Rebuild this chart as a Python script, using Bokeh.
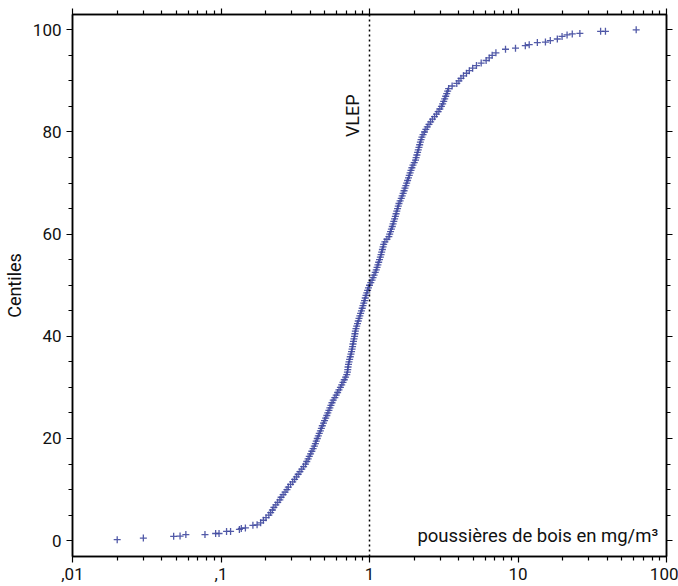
import math
from bokeh.plotting import figure
from bokeh.models import (Range1d, FixedTicker, SingleIntervalTicker, LinearAxis, LogAxis,
                          CustomJSTickFormatter, CustomLabelingPolicy, Span, Label,
                          ColumnDataSource)
from bokeh.embed import file_html
from bokeh.resources import INLINE

# ---- data: concentration (mg/m3) and centile ----
conc = [
    0.020, 0.030, 0.048, 0.053, 0.058, 0.078, 0.092, 0.097, 0.109, 0.116,
    0.133, 0.137, 0.146, 0.164, 0.175, 0.185,
    0.193, 0.201, 0.210, 0.216, 0.222, 0.227, 0.234, 0.241, 0.249, 0.254,
    0.262, 0.270, 0.278, 0.284, 0.294, 0.304, 0.313, 0.322,
    0.331, 0.340, 0.350, 0.360, 0.371, 0.378, 0.386, 0.393, 0.401, 0.409,
    0.417, 0.425, 0.432, 0.438, 0.445, 0.452, 0.459, 0.467, 0.474, 0.481,
    0.490, 0.498, 0.507, 0.516, 0.524, 0.533, 0.541, 0.550, 0.559, 0.570,
    0.584, 0.597, 0.610, 0.623, 0.637, 0.650, 0.663, 0.676, 0.690, 0.703,
    0.710, 0.714, 0.717, 0.722, 0.728, 0.735, 0.742, 0.750, 0.757, 0.763,
    0.769, 0.774, 0.780, 0.786, 0.793, 0.798, 0.803, 0.811, 0.820, 0.830,
    0.840, 0.850, 0.861, 0.871, 0.882, 0.893, 0.904, 0.915, 0.926, 0.936,
    0.947, 0.959, 0.971, 0.984, 1.000, 1.020, 1.040, 1.056, 1.073, 1.093,
    1.110, 1.124, 1.139, 1.153, 1.168, 1.183, 1.196, 1.208, 1.221, 1.234,
    1.246, 1.270, 1.310, 1.350, 1.368, 1.386, 1.404, 1.424, 1.441, 1.458,
    1.476, 1.493, 1.510, 1.527, 1.545, 1.562, 1.580, 1.608, 1.636, 1.660,
    1.685, 1.709, 1.733, 1.757, 1.780, 1.805, 1.830, 1.853, 1.877, 1.903,
    1.930, 1.962, 2.000, 2.040, 2.060, 2.085, 2.108, 2.130, 2.153, 2.177,
    2.200, 2.225, 2.255, 2.295, 2.345, 2.395, 2.450, 2.515, 2.580, 2.655,
    2.740, 2.825, 2.900, 2.975, 3.050, 3.110, 3.160, 3.210, 3.260, 3.310,
    3.360, 3.410, 3.600, 3.870, 4.000, 4.130, 4.290, 4.500, 4.700, 4.950,
    5.250, 5.650, 6.100, 6.400, 6.700, 7.100,
    8.24, 9.62, 11.2, 11.9, 13.5, 15.3, 16.5, 18.4, 19.8, 21.4,
    23.2, 26.1, 36.0, 38.8, 62.5,
]
centile = [
    0.2, 0.5, 0.85, 0.9, 1.2, 1.2, 1.4, 1.4, 1.8, 1.8,
    2.2, 2.4, 2.5, 3.0, 3.1, 3.5,
    4.0, 4.5, 5.0, 5.5, 6.0, 6.5, 7.0, 7.5, 8.0, 8.5,
    9.0, 9.5, 10.0, 10.5, 11.0, 11.5, 12.0, 12.5,
    13.0, 13.5, 14.0, 14.5, 15.0, 15.5, 16.0, 16.5, 17.0, 17.5,
    18.0, 18.5, 19.0, 19.5, 20.0, 20.5, 21.0, 21.5, 22.0, 22.5,
    23.0, 23.5, 24.0, 24.5, 25.0, 25.5, 26.0, 26.5, 27.0, 27.5,
    28.0, 28.5, 29.0, 29.5, 30.0, 30.5, 31.0, 31.5, 32.0, 32.5,
    33.0, 33.5, 34.0, 34.5, 35.0, 35.5, 36.0, 36.5, 37.0, 37.5,
    38.0, 38.5, 39.0, 39.5, 40.0, 40.5, 41.0, 41.5, 42.0, 42.5,
    43.0, 43.5, 44.0, 44.5, 45.0, 45.5, 46.0, 46.5, 47.0, 47.5,
    48.0, 48.5, 49.0, 49.5, 50.0, 50.5, 51.0, 51.5, 52.0, 52.5,
    53.0, 53.5, 54.0, 54.5, 55.0, 55.5, 56.0, 56.5, 57.0, 57.5,
    58.0, 58.5, 59.0, 59.5, 60.0, 60.5, 61.0, 61.5, 62.0, 62.5,
    63.0, 63.5, 64.0, 64.5, 65.0, 65.5, 66.0, 66.5, 67.0, 67.5,
    68.0, 68.5, 69.0, 69.5, 70.0, 70.5, 71.0, 71.5, 72.0, 72.5,
    73.0, 73.5, 74.0, 74.5, 75.0, 75.5, 76.0, 76.5, 77.0, 77.5,
    78.0, 78.5, 79.0, 79.5, 80.0, 80.5, 81.0, 81.5, 82.0, 82.5,
    83.0, 83.5, 84.0, 84.5, 85.0, 85.5, 86.0, 86.5, 87.0, 87.5,
    88.0, 88.5, 89.0, 89.5, 90.0, 90.5, 91.0, 91.5, 92.0, 92.5,
    93.0, 93.5, 94.0, 94.5, 95.0, 95.5,
    96.2, 96.4, 96.9, 97.1, 97.5, 97.6, 97.9, 98.2, 98.7, 99.0,
    99.2, 99.3, 99.7, 99.7, 100.0,
]

x_major = [0.01, 0.1, 1, 10, 100]
x_labels = [",01", ",1", "1", "10", "100"]
x_minor = [m * d for d in [0.01, 0.1, 1, 10] for m in range(2, 10)]
vlep = 1.0

FONT = "Roboto"
BLUE = "#3f489f"
TXT = "#111111"

p = figure(width=678, height=586, x_axis_type="log",
           x_range=Range1d(0.01, 100), y_range=Range1d(-3.1, 103),
           output_backend="svg", toolbar_location=None,
           min_border_left=72, min_border_right=12,
           min_border_top=14, min_border_bottom=30)
p.background_fill_color = "white"
p.border_fill_color = "white"
p.outline_line_color = "black"
p.outline_line_width = 1.5
p.xgrid.visible = False
p.ygrid.visible = False

src = ColumnDataSource(dict(x=conc, y=centile))
p.scatter("x", "y", source=src, marker="cross", size=7, line_width=1.3,
          line_color=BLUE, line_alpha=0.9)

p.add_layout(Span(location=vlep, dimension="height", line_color="black",
                  line_width=1.5, line_dash="2 3"))

xt = FixedTicker(ticks=x_major, minor_ticks=x_minor)
yt = SingleIntervalTicker(interval=20, num_minor_ticks=4)
fmt = CustomJSTickFormatter(args=dict(vals=x_major, labs=x_labels), code="""
for (let i = 0; i < vals.length; i++) {
  if (Math.abs(Math.log10(tick) - Math.log10(vals[i])) < 1e-6) return labs[i];
}
return '';
""")
hide_all = CustomLabelingPolicy(code="""
const all = [...indices];
for (const i of all) indices.unset(i);
return indices;
""")

def style(ax, labels=True):
    ax.axis_line_width = 1.5
    ax.axis_line_color = "black"
    ax.major_tick_in = 0
    ax.major_tick_out = 6
    ax.minor_tick_in = 0
    ax.minor_tick_out = 4
    ax.major_tick_line_width = 1.2
    ax.minor_tick_line_width = 1.2
    ax.major_label_text_font = FONT
    ax.major_label_text_font_size = "17px" if labels else "1px"
    ax.major_label_text_color = TXT
    ax.major_label_standoff = 5 if labels else 0
    ax.axis_label_text_font = FONT
    ax.axis_label_text_font_style = "normal"
    ax.axis_label_text_font_size = "18px"
    ax.axis_label_text_color = TXT
    if not labels:
        ax.major_label_policy = hide_all

p.xaxis.ticker = xt
p.xaxis.formatter = fmt
p.yaxis.ticker = yt
p.yaxis.axis_label = "Centiles"
p.yaxis.axis_label_standoff = 5
style(p.xaxis[0])
style(p.yaxis[0])

top = LogAxis(ticker=xt, formatter=fmt)
style(top, labels=False)
p.add_layout(top, "above")
right = LinearAxis(ticker=yt)
style(right, labels=False)
p.add_layout(right, "right")

p.add_layout(Label(x=88, y=1, text="poussières de bois en mg/m³",
                   text_align="right", text_baseline="alphabetic",
                   text_font=FONT, text_font_size="18.5px", text_color=TXT))
p.add_layout(Label(x=vlep, y=79, x_offset=-17, text="VLEP", angle=math.pi / 2,
                   text_align="left", text_baseline="alphabetic",
                   text_font=FONT, text_font_size="18px", text_color=TXT))

open("out.html", "w").write(file_html(p, INLINE))
